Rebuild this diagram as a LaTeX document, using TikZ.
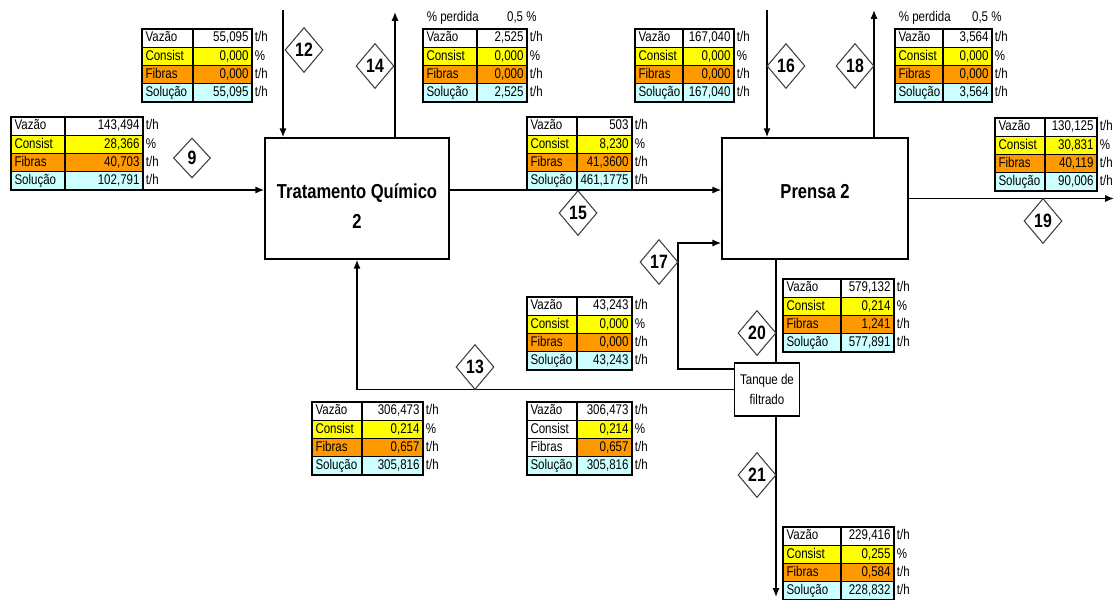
\documentclass[tikz,border=0pt]{standalone}
\usepackage{fontspec}
\setmainfont{Liberation Sans}
\newfontfamily\narrowfont[FakeStretch=0.82]{Liberation Sans}
\usetikzlibrary{arrows.meta,positioning,shapes.geometric}
\definecolor{consistc}{HTML}{FFFF00}
\definecolor{fibrasc}{HTML}{FF9900}
\definecolor{solucaoc}{HTML}{CCFFFF}
% stream table: name, top-left corner, label width, value width (px), vazao, consist, fibras, solucao
\newcommand{\streamtab}[8]{%
  \node[lab,anchor=north west,text width=#3*0.02cm-4pt] (#1v) at (#2) {Vazão};
  \node[val,right=0pt of #1v,text width=#4*0.02cm-4pt] (#1vn) {#5};
  \node[unit,right=1.5pt of #1vn] (#1vu) {t/h};
  \node[lab,labc,below=0pt of #1v,text width=#3*0.02cm-4pt] (#1c) {Consist};
  \node[val,fill=consistc,right=0pt of #1c,text width=#4*0.02cm-4pt] (#1cn) {#6};
  \node[unit,right=1.5pt of #1cn] (#1cu) {\%};
  \node[lab,labf,below=0pt of #1c,text width=#3*0.02cm-4pt] (#1f) {Fibras};
  \node[val,fill=fibrasc,right=0pt of #1f,text width=#4*0.02cm-4pt] (#1fn) {#7};
  \node[unit,right=1.5pt of #1fn] (#1fu) {t/h};
  \node[lab,fill=solucaoc,below=0pt of #1f,text width=#3*0.02cm-4pt] (#1s) {Solução};
  \node[val,fill=solucaoc,right=0pt of #1s,text width=#4*0.02cm-4pt] (#1sn) {#8};
  \node[unit,right=1.5pt of #1sn] (#1su) {t/h};
}

\begin{document}
\begin{tikzpicture}[x=0.02cm,y=-0.02cm,
  cell/.style={draw,line width=0.6pt,fill=white,minimum height=0.365cm,inner xsep=2pt,inner ysep=0pt,outer sep=0pt,
    text height=6pt,text depth=1.8pt,font=\narrowfont\fontsize{8}{9}\selectfont},
  lab/.style={cell,align=left},
  val/.style={cell,align=right},
  labc/.style={fill=consistc},
  labf/.style={fill=fibrasc},
  unit/.style={inner sep=0pt,text height=6pt,text depth=1.8pt,font=\narrowfont\fontsize{8}{9}\selectfont},
  proc/.style={draw,line width=0.9pt,align=center,font=\narrowfont\bfseries\fontsize{11.5}{17}\selectfont},
  tank/.style={draw,line width=0.7pt,fill=white,align=center,inner sep=0pt,font=\narrowfont\fontsize{8}{11.8}\selectfont},
  tag/.style={diamond,draw=black!75,fill=white,line width=0.6pt,minimum width=0.76cm,minimum height=0.9cm,inner sep=0pt,
    font=\narrowfont\bfseries\fontsize{11}{12}\selectfont},
  line/.style={line width=0.8pt},
  flow/.style={line,-{Latex[length=5pt,width=4pt]}}]
  \useasboundingbox (0,0) rectangle (1116,599);
  % units
  \node[proc,minimum width=3.68cm,minimum height=2.42cm] (tq) at (357,198.5) {\rule{0pt}{0.6cm}Tratamento Químico\\2};
  \node[proc,minimum width=3.72cm,minimum height=2.42cm] (pr) at (815,198.5) {\raisebox{0.3cm}{Prensa 2}};
  \node[tank,minimum width=1.3cm,minimum height=1.06cm] (tk) at (767,389.5) {Tanque de\\filtrado};
  % stream ends
  \coordinate (s9) at (10,190);
  \coordinate (s12) at (283,10);
  \coordinate (s14) at (395,12);
  \coordinate (s16) at (767,10);
  \coordinate (s18) at (874,10);
  \coordinate (s19) at (1114,198.5);
  \coordinate (s17) at (678,243);
  \coordinate (s17b) at (700,369);
  \coordinate (s20) at (776,300);
  \coordinate (s21) at (776,597);
  % streams
  \draw[flow] (s9) -- (s9 -| tq.west);
  \draw[flow] (s12) -- (s12 |- tq.north);
  \draw[flow] (s14 |- tq.north) -- (s14);
  \draw[flow] (tq.east |- s9) -- (pr.west |- s9);
  \draw[flow] (s16) -- (s16 |- pr.north);
  \draw[flow] (s18 |- pr.north) -- (s18);
  \draw[flow] (pr.east) -- (s19);
  \draw[line] (pr.south -| s20) -- (tk.north -| s20);
  \draw[flow] (tk.south -| s20) -- (s21);
  \draw[flow] (tk.west |- s17b) -| (s17) -- (s17 -| pr.west);
  \draw[flow] (tk.west) -| (tq.south);
  % stream numbers
  \node[tag,minimum width=0.74cm,minimum height=0.8cm] (n9) at (192,158) {9};
  \node[tag] (n12) at (304,50) {12};
  \node[tag] (n14) at (375,66) {14};
  \node[tag] (n15) at (578,213) {15};
  \node[tag] (n16) at (786,66) {16};
  \node[tag] (n18) at (855,66) {18};
  \node[tag] (n19) at (1043,221) {19};
  \node[tag] (n17) at (659,262) {17};
  \node[tag] (n20) at (757,333) {20};
  \node[tag] (n21) at (757,475) {21};
  \node[tag] (n13) at (475,367) {13};
  % stream data
  \streamtab{t9}{11,117}{54}{78}{143,494}{28,366}{40,703}{102,791}
  \streamtab{t12}{142,29}{51}{59}{55,095}{0,000}{0,000}{55,095}
  \streamtab{t14}{423,29}{54}{50}{2,525}{0,000}{0,000}{2,525}
  \streamtab{t15}{527,117}{50}{55}{503}{8,230}{41,3600}{461,1775}
  \streamtab{t16}{635,29}{48}{51}{167,040}{0,000}{0,000}{167,040}
  \streamtab{t18}{895,29}{48}{49}{3,564}{0,000}{0,000}{3,564}
  \streamtab{t19}{995,118}{50}{52}{130,125}{30,831}{40,119}{90,006}
  \streamtab{t20}{783,279}{58}{53}{579,132}{0,214}{1,241}{577,891}
  \streamtab{t21}{783,527}{58}{53}{229,416}{0,255}{0,584}{228,832}
  \streamtab{t17}{527,297}{50}{55}{43,243}{0,000}{0,000}{43,243}
  \streamtab{t13}{312,402}{50}{61}{306,473}{0,214}{0,657}{305,816}
  \begin{scope}[labc/.style={fill=white},labf/.style={fill=white}]
    \streamtab{t13b}{527,402}{50}{55}{306,473}{0,214}{0,657}{305,816}
  \end{scope}
  % losses
  \node[unit,anchor=south west] (p14) at ([xshift=2pt,yshift=2pt]t14v.north west) {\% perdida};
  \node[unit,anchor=south east] (p14n) at ([xshift=-2pt,yshift=2pt]t14vn.north east) {0,5};
  \node[unit,right=1.5pt of p14n] (p14u) {\%};
  \node[unit,anchor=south west] (p18) at ([xshift=2pt,yshift=2pt]t18v.north west) {\% perdida};
  \node[unit,anchor=south east] (p18n) at ([xshift=-2pt,yshift=2pt]t18vn.north east) {0,5};
  \node[unit,right=1.5pt of p18n] (p18u) {\%};
\end{tikzpicture}
\end{document}
